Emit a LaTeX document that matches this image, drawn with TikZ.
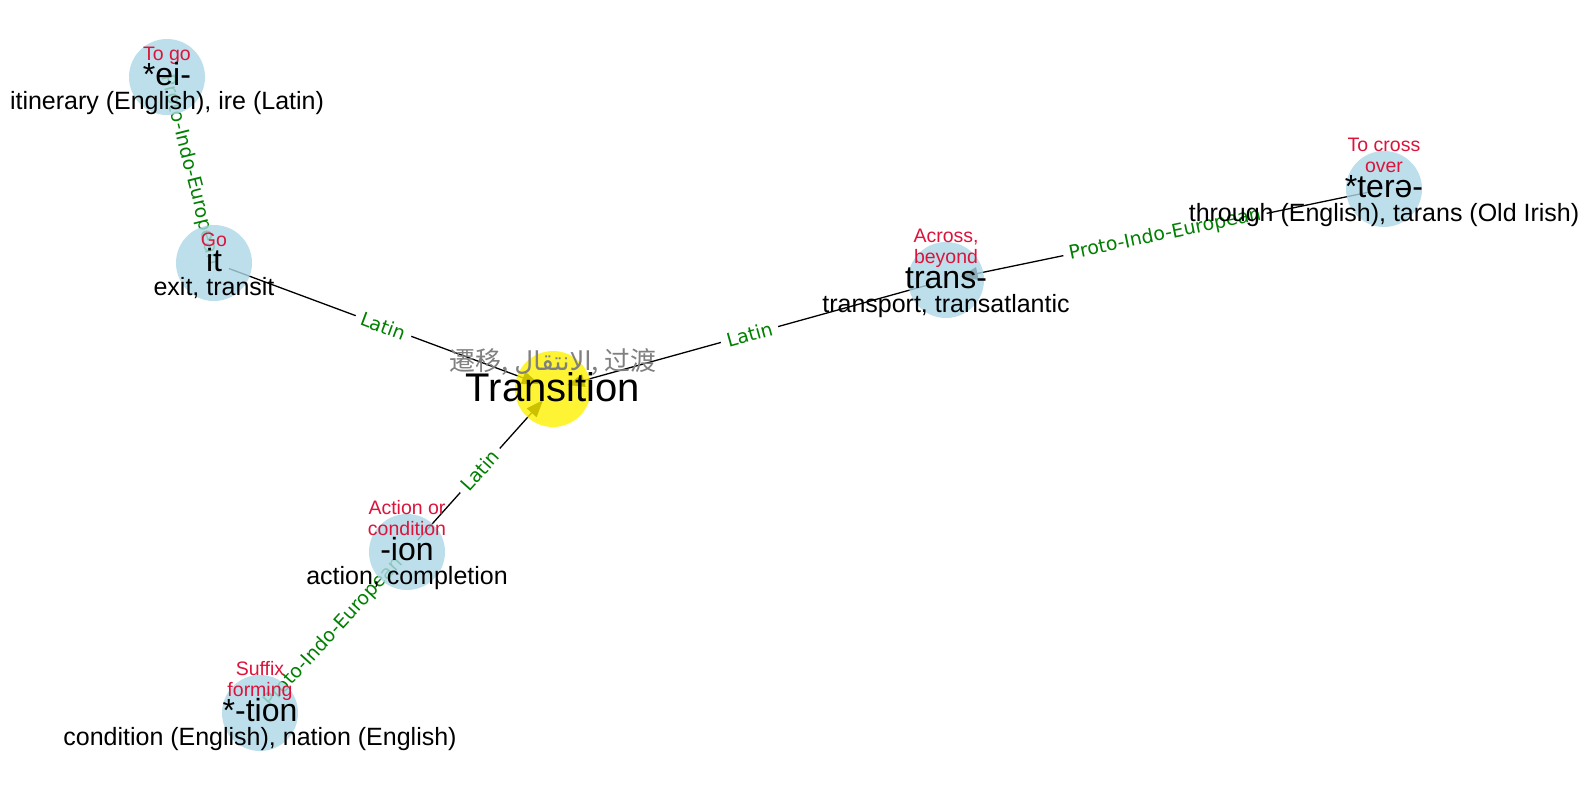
\documentclass[tikz,border=0pt]{standalone}
\usepackage{fontspec}
\setmainfont{Liberation Sans}
\newfontfamily\djv{DejaVu Sans}
\newfontfamily\cjk{Noto Sans CJK SC}
\newfontfamily\arabicfont[Script=Arabic]{DejaVu Sans}
\TeXXeTstate=1
\usetikzlibrary{arrows.meta}
\definecolor{lblue}{HTML}{ADD8E6}
\definecolor{crimson}{HTML}{DC143C}
\definecolor{egreen}{HTML}{008000}
\definecolor{gtext}{HTML}{808080}
\pgfdeclarelayer{bglayer}
\pgfdeclarelayer{edgelayer}
\pgfdeclarelayer{textlayer}
\pgfsetlayers{bglayer,edgelayer,main,textlayer}
\begin{document}
\begin{tikzpicture}[x=1pt,y=-1pt,
  word/.style={circle, fill=lblue, fill opacity=0.8, draw=none, minimum size=76pt, inner sep=0pt},
  root/.style={word, fill=yellow},
  edge/.style={line width=1.3pt, black, shorten <=16pt, shorten >=15pt, -{Triangle[length=17pt,width=13pt]}},
  elabel/.style={font=\djv\fontsize{19}{23}\selectfont, text=egreen, fill=white, sloped, midway, inner xsep=6pt, inner ysep=3pt},
  mainlbl/.style={font=\fontsize{32}{38}\selectfont, anchor=base, inner sep=0pt},
  deflbl/.style={font=\fontsize{19.5}{21}\selectfont, text=crimson, anchor=south, align=center, inner sep=0pt},
  exlbl/.style={font=\fontsize{25}{30}\selectfont, anchor=base, inner sep=0pt},
]
\begin{pgfonlayer}{bglayer}
\fill[white] (0,0) rectangle (1589,790);
\end{pgfonlayer}
\useasboundingbox (0,0) rectangle (1589,790);

% circles
\node[root] (T) at (553,389) {};
\node[word] (ei) at (167,77) {};
\node[word] (it) at (214,263) {};
\node[word] (trans) at (946,280) {};
\node[word] (tere) at (1384,189) {};
\node[word] (ion) at (407,552) {};
\node[word] (tion) at (260,713) {};

% edges
\begin{pgfonlayer}{edgelayer}
\draw[edge] (it.center) -- (T.center) node[elabel] (l1) {Latin};
\draw[edge] (trans.center) -- (T.center) node[elabel] (l2) {Latin};
\draw[edge] (ion.center) -- (T.center) node[elabel] (l3) {Latin};
\draw[edge] (ei.center) -- (it.center) node[elabel] (l4) {Proto-Indo-European};
\draw[edge] (tere.center) -- (trans.center) node[elabel] (l5) {Proto-Indo-European};
\draw[edge] (tion.center) -- (ion.center) node[elabel] (l6) {Proto-Indo-European};
\end{pgfonlayer}

% texts
\begin{pgfonlayer}{textlayer}
\node[anchor=base, inner sep=0pt, text=gtext, font=\fontsize{26}{30}\selectfont] (Tg) at (553,370)
  {{\cjk 遷移, }{\arabicfont\beginR الانتقال\endR}{\cjk , 过渡}};
\node[anchor=base, inner sep=0pt, font=\fontsize{40}{48}\selectfont] (Tm) at (553,401) {Transition};

\node[deflbl] (eid) at (167,67.3) {To go\strut};
\node[mainlbl] (eim) at (167,85.5) {*ei-};
\node[exlbl] (eie) at (167,109) {itinerary (English), ire (Latin)};

\node[deflbl] (itd) at (214,253.3) {Go\strut};
\node[mainlbl] (itm) at (214,271.5) {it};
\node[exlbl] (ite) at (214,295) {exit, transit};

\node[deflbl] (transd) at (946,270.3) {Across,\\beyond\strut};
\node[mainlbl] (transm) at (946,288.5) {trans-};
\node[exlbl] (transe) at (946,312) {transport, transatlantic};

\node[deflbl] (tered) at (1384,179.3) {To cross\\over\strut};
\node[mainlbl] (terem) at (1384,197.5) {*terə-};
\node[exlbl] (teree) at (1384,221) {through (English), tarans (Old Irish)};

\node[deflbl] (iond) at (407,542.3) {Action or\\condition\strut};
\node[mainlbl] (ionm) at (407,560.5) {-ion};
\node[exlbl] (ione) at (407,584) {action, completion};

\node[deflbl] (tiond) at (260,703.3) {Suffix\\forming\strut};
\node[mainlbl] (tionm) at (260,721.5) {*-tion};
\node[exlbl] (tione) at (260,745) {condition (English), nation (English)};
\end{pgfonlayer}
\end{tikzpicture}
\end{document}
